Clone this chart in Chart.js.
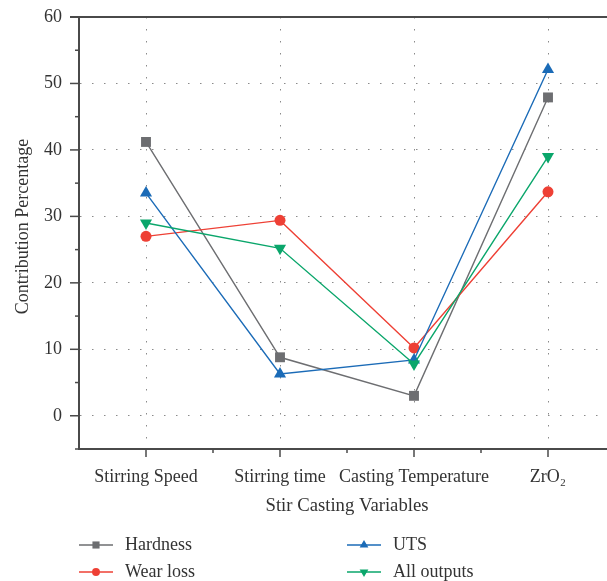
<!DOCTYPE html>
<html><head><meta charset="utf-8">
<script src="https://cdn.jsdelivr.net/npm/chart.js@4/dist/chart.umd.min.js"></script>
<style>html,body{margin:0;padding:0;overflow:hidden;background:#fff;width:607px;height:581px}
#wrap{position:absolute;left:0;top:0;width:615px;height:581px}</style>
</head><body>
<div id="wrap"><canvas id="c"></canvas></div>
<script>
const categories = ['Stirring Speed', 'Stirring time', 'Casting Temperature', 'ZrO\u2082'];
const hardness   = [41.2, 8.8, 3.0, 47.9];
const wearLoss   = [27.0, 29.4, 10.2, 33.7];
const uts        = [33.5, 6.3, 8.4, 52.1];
const allOutputs = [29.0, 25.2, 7.8, 39.0];
const seriesNames = ['Hardness', 'Wear loss', 'UTS', 'All outputs'];
const yTicks = [0, 10, 20, 30, 40, 50, 60];
const yMinorTicks = [-5, 5, 15, 25, 35, 45, 55];
const xTitle = 'Stir Casting Variables';
const yTitle = 'Contribution Percentage';

const FONT = '"Liberation Serif", "DejaVu Serif", serif';
const TEXT = '#333333';
const AXIS = '#4a4a4a';

const styles = [
  {color: '#6d6e71', pointStyle: 'rect', radius: 7, rotation: 0},
  {color: '#ee4035', pointStyle: 'circle', radius: 5.5, rotation: 0},
  {color: '#1b6bb7', pointStyle: 'triangle', radius: 7, rotation: 0},
  {color: '#0aa66b', pointStyle: 'triangle', radius: 7, rotation: 180}
];
const values = [hardness, wearLoss, uts, allOutputs];

const datasets = values.map((v, i) => ({
  label: seriesNames[i],
  data: v,
  borderColor: styles[i].color,
  backgroundColor: styles[i].color,
  pointBackgroundColor: styles[i].color,
  pointBorderColor: styles[i].color,
  pointBorderWidth: 0,
  pointStyle: styles[i].pointStyle,
  pointRadius: styles[i].radius,
  pointRotation: styles[i].rotation,
  borderWidth: 1.4,
  tension: 0,
  order: 4 - i
}));

const framePlugin = {
  id: 'frame',
  afterDraw(chart) {
    const ctx = chart.ctx;
    const ca = chart.chartArea;
    const ys = chart.scales.y, xs = chart.scales.x;
    ctx.save();
    ctx.strokeStyle = AXIS;
    ctx.lineWidth = 2;
    ctx.beginPath();
    ctx.moveTo(ca.left - 9, ca.top);
    ctx.lineTo(chart.width, ca.top);
    ctx.stroke();
    ctx.lineWidth = 1.5;
    yTicks.forEach(v => {
      const p = ys.getPixelForValue(v);
      ctx.beginPath(); ctx.moveTo(ca.left - 9, p); ctx.lineTo(ca.left, p); ctx.stroke();
    });
    yMinorTicks.forEach(v => {
      const p = ys.getPixelForValue(v);
      ctx.beginPath(); ctx.moveTo(ca.left - 4, p); ctx.lineTo(ca.left, p); ctx.stroke();
    });
    categories.forEach((c, i) => {
      const p = xs.getPixelForValue(i);
      ctx.beginPath(); ctx.moveTo(p, ca.bottom); ctx.lineTo(p, ca.bottom + 8); ctx.stroke();
      const m = xs.getPixelForValue(i + 0.5);
      ctx.beginPath(); ctx.moveTo(m, ca.bottom); ctx.lineTo(m, ca.bottom + 4); ctx.stroke();
    });
    // y title
    ctx.save();
    ctx.font = '18px ' + FONT;
    ctx.fillStyle = TEXT;
    ctx.textAlign = 'center';
    ctx.textBaseline = 'alphabetic';
    ctx.translate(27.5, 226.5);
    ctx.rotate(-Math.PI / 2);
    ctx.fillText(yTitle, 0, 0);
    ctx.restore();
    // legend
    ctx.font = '18px ' + FONT;
    ctx.textBaseline = 'middle';
    ctx.textAlign = 'left';
    const colX = [79, 347];
    const rowY = [545, 572];
    datasets.forEach((d, i) => {
      const x0 = colX[Math.floor(i / 2)];
      const y0 = rowY[i % 2];
      const st = styles[i];
      ctx.strokeStyle = st.color;
      ctx.fillStyle = st.color;
      ctx.lineWidth = 1.4;
      ctx.beginPath(); ctx.moveTo(x0, y0); ctx.lineTo(x0 + 34, y0); ctx.stroke();
      Chart.helpers.drawPoint(ctx, {pointStyle: st.pointStyle, radius: st.radius * 0.72, rotation: st.rotation, borderWidth: 0}, x0 + 17, y0);
      ctx.fillStyle = TEXT;
      ctx.fillText(d.label, x0 + 46, y0);
    });
    ctx.restore();
  }
};

new Chart(document.getElementById('c'), {
  type: 'line',
  data: {labels: categories, datasets},
  plugins: [framePlugin],
  options: {
    responsive: true,
    maintainAspectRatio: false,
    animation: false,
    devicePixelRatio: 1,
    layout: {autoPadding: false, padding: {top: 17, right: 0, bottom: 64, left: 0}},
    plugins: {legend: {display: false}, tooltip: {enabled: false}},
    scales: {
      x: {
        type: 'category',
        offset: true,
        afterFit: s => { s.height = 68; s.paddingLeft = 0; s.paddingRight = 0; },
        grid: {display: true, offset: false, drawTicks: false, color: '#8a8a8a', lineWidth: 1},
        border: {display: true, color: AXIS, width: 2, dash: [1.5, 10.5]},
        ticks: {font: {family: FONT, size: 18}, color: TEXT, padding: 17, maxRotation: 0, autoSkip: false},
        title: {display: true, text: xTitle, font: {family: FONT, size: 18.7}, color: TEXT, padding: {top: 0, bottom: 0}}
      },
      y: {
        type: 'linear',
        min: -5, max: 60,
        afterFit: s => { s.width = 79; s.paddingTop = 0; s.paddingBottom = 0; },
        afterBuildTicks: s => { s.ticks = yTicks.map(v => ({value: v})); },
        grid: {display: true, drawTicks: false, lineWidth: 1,
          color: ctx => (ctx.tick && ctx.tick.value >= 0 && ctx.tick.value < 60) ? '#8a8a8a' : 'rgba(0,0,0,0)'},
        border: {display: true, color: AXIS, width: 2, dash: [1.5, 10.5]},
        ticks: {font: {family: FONT, size: 18}, color: TEXT, padding: 17},
        title: {display: false, text: yTitle}
      }
    }
  }
});
</script>
</body></html>
